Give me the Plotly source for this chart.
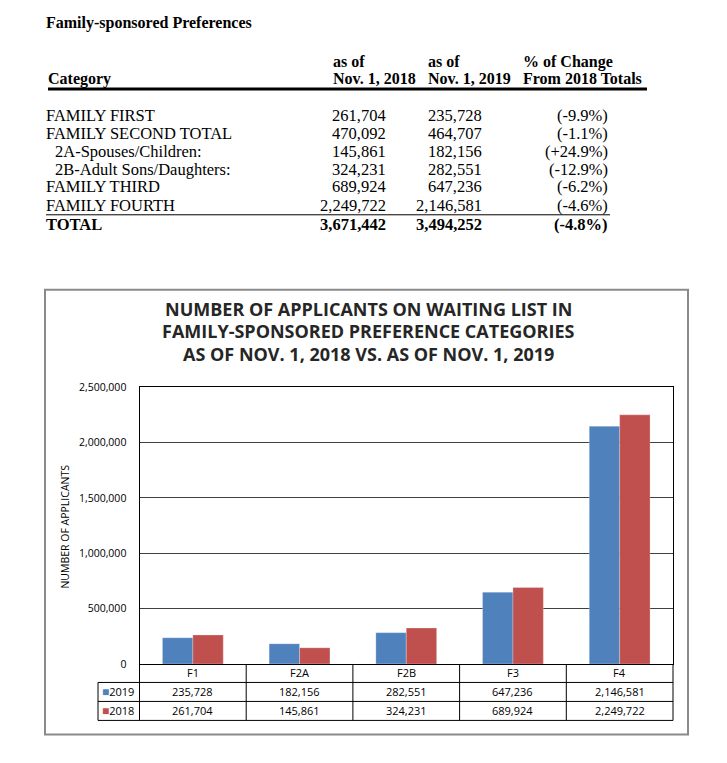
import plotly.graph_objects as go

W, H = 727, 763
PAD = 8  # default body margin of the html page
FW, FH = W - 2 * PAD, H - 2 * PAD
# the captured page ends up slightly squeezed vertically; measured offset/scale
SQ_A, SQ_B = 6.2, 0.982

# data
row_labels = ["FAMILY FIRST", "FAMILY SECOND TOTAL", "2A-Spouses/Children:",
              "2B-Adult Sons/Daughters:", "FAMILY THIRD", "FAMILY FOURTH", "TOTAL"]
row_indent = [False, False, True, True, False, False, False]
totals_2018 = [261704, 470092, 145861, 324231, 689924, 2249722, 3671442]
totals_2019 = [235728, 464707, 182156, 282551, 647236, 2146581, 3494252]

categories = ["F1", "F2A", "F2B", "F3", "F4"]
applicants_2019 = [235728, 182156, 282551, 647236, 2146581]
applicants_2018 = [261704, 145861, 324231, 689924, 2249722]

BLUE = "#4F81BD"
RED = "#C0504D"
SERIF = "Liberation Serif"
SANS = "Open Sans"


def px(x):
    return (x - PAD) / FW


def py(y):
    y = (y - SQ_A) / SQ_B
    return 1 - (y - PAD) / FH


annotations = []
shapes = []


def text(x, y, s, size=16.5, family=SERIF, xanchor="left", color="black", **kw):
    annotations.append(dict(
        x=px(x), y=py(y), xref="paper", yref="paper", text=s, showarrow=False,
        xanchor=xanchor, yanchor="middle", borderpad=0, borderwidth=0,
        font=dict(size=size, family=family, color=color), **kw))


def hline(x0, x1, y, width=1, color="black"):
    shapes.append(dict(type="line", xref="paper", yref="paper",
                       x0=px(x0), x1=px(x1), y0=py(y), y1=py(y),
                       line=dict(color=color, width=width)))


def vline(x, y0, y1, width=1, color="black"):
    shapes.append(dict(type="line", xref="paper", yref="paper",
                       x0=px(x), x1=px(x), y0=py(y0), y1=py(y1),
                       line=dict(color=color, width=width)))


# ---- top summary table ----
text(46, 22, "<b>Family-sponsored Preferences</b>", size=16)
text(48, 78, "<b>Category</b>", size=16)
text(333, 61, "<b>as of</b>", size=16)
text(333, 78, "<b>Nov. 1, 2018</b>", size=16)
text(428, 61, "<b>as of</b>", size=16)
text(428, 78, "<b>Nov. 1, 2019</b>", size=16)
text(523, 61, "<b>% of Change</b>", size=16)
text(523, 78, "<b>From 2018 Totals</b>", size=16)
hline(48, 647, 88, width=3)

row_y = [115, 132.5, 150.5, 168.5, 186, 205, 224]
for i, lab in enumerate(row_labels):
    bold = lab == "TOTAL"
    pct = (totals_2019[i] - totals_2018[i]) / totals_2018[i] * 100
    cells = [lab, f"{totals_2018[i]:,}", f"{totals_2019[i]:,}", f"({pct:+.1f}%)"]
    if pct < 0:
        cells[3] = f"({pct:.1f}%)"
    if bold:
        cells = [f"<b>{c}</b>" for c in cells]
    y = row_y[i]
    text(55 if row_indent[i] else 46, y, cells[0])
    text(386, y, cells[1], xanchor="right")
    text(482, y, cells[2], xanchor="right")
    text(608, y, cells[3], xanchor="right")
hline(46, 610, 214, width=1)

# ---- chart ----
X0, X1, YT, YB = 139.5, 673, 386.5, 663.5

fig = go.Figure()
fig.add_trace(go.Bar(x=categories, y=applicants_2019, name="2019",
                     marker=dict(color=BLUE, line=dict(color="rgba(255,255,255,0.5)", width=0.5))))
fig.add_trace(go.Bar(x=categories, y=applicants_2018, name="2018",
                     marker=dict(color=RED, line=dict(color="rgba(255,255,255,0.5)", width=0.5))))

# outer chart box
shapes.append(dict(type="rect", xref="paper", yref="paper",
                   x0=px(45), x1=px(688), y0=py(734), y1=py(289),
                   line=dict(color="#8a8a8a", width=2)))

title_lines = ["NUMBER OF APPLICANTS ON WAITING LIST IN",
               "FAMILY-SPONSORED PREFERENCE CATEGORIES",
               "AS OF NOV. 1, 2018 VS. AS OF NOV. 1, 2019"]
for ty, t in zip([308, 330, 353], title_lines):
    text(368, ty, f"<b>{t}</b>", size=18, family=SANS, xanchor="center", color="#262626")

annotations.append(dict(x=px(65.5), y=py(526.5), xref="paper", yref="paper",
                        text="NUMBER OF APPLICANTS", textangle=-90, showarrow=False,
                        xanchor="center", yanchor="middle",
                        font=dict(size=10.5, family=SANS, color="black")))

# data table under the chart
r_head, r19, r18 = 672.5, 691, 710
for c, v19, v18 in zip(categories, applicants_2019, applicants_2018):
    for yy, s in [(r_head, c), (r19, f"{v19:,}"), (r18, f"{v18:,}")]:
        annotations.append(dict(x=c, y=py(yy), xref="x", yref="paper", text=s,
                                showarrow=False, xanchor="center", yanchor="middle",
                                font=dict(size=11, family=SANS, color="black")))
text(102, r19, f"<span style='color:{BLUE};font-size:12px'>■</span>2019", size=11, family=SANS)
text(102, r18, f"<span style='color:{RED};font-size:12px'>■</span>2018", size=11, family=SANS)

hline(98, X1, 682)
hline(98, X1, 701)
hline(98, X1, 720)
vline(98, 682, 720)
step = (X1 - X0) / len(categories)
for k in range(len(categories) + 1):
    vline(X0 + k * step, YB, 720)

fig.update_layout(
    width=FW, height=FH,
    margin=dict(l=0, r=0, t=0, b=0),
    paper_bgcolor="white", plot_bgcolor="white",
    showlegend=False,
    barmode="group", bargap=0.43, bargroupgap=0,
    xaxis=dict(domain=[px(X0), px(X1)], showticklabels=False, showgrid=False,
               showline=True, linecolor="black", linewidth=1, mirror=True,
               fixedrange=True),
    yaxis=dict(domain=[py(YB), py(YT)], range=[0, 2500000], dtick=500000,
               tickformat=",", showgrid=True, gridcolor="#404040", gridwidth=1,
               showline=True, linecolor="black", linewidth=1, mirror=True,
               ticks="", ticklabelstandoff=10, zeroline=False,
               tickfont=dict(size=10.5, family=SANS, color="black")),
    annotations=annotations,
    shapes=shapes,
)

fig.write_html("out.html")
